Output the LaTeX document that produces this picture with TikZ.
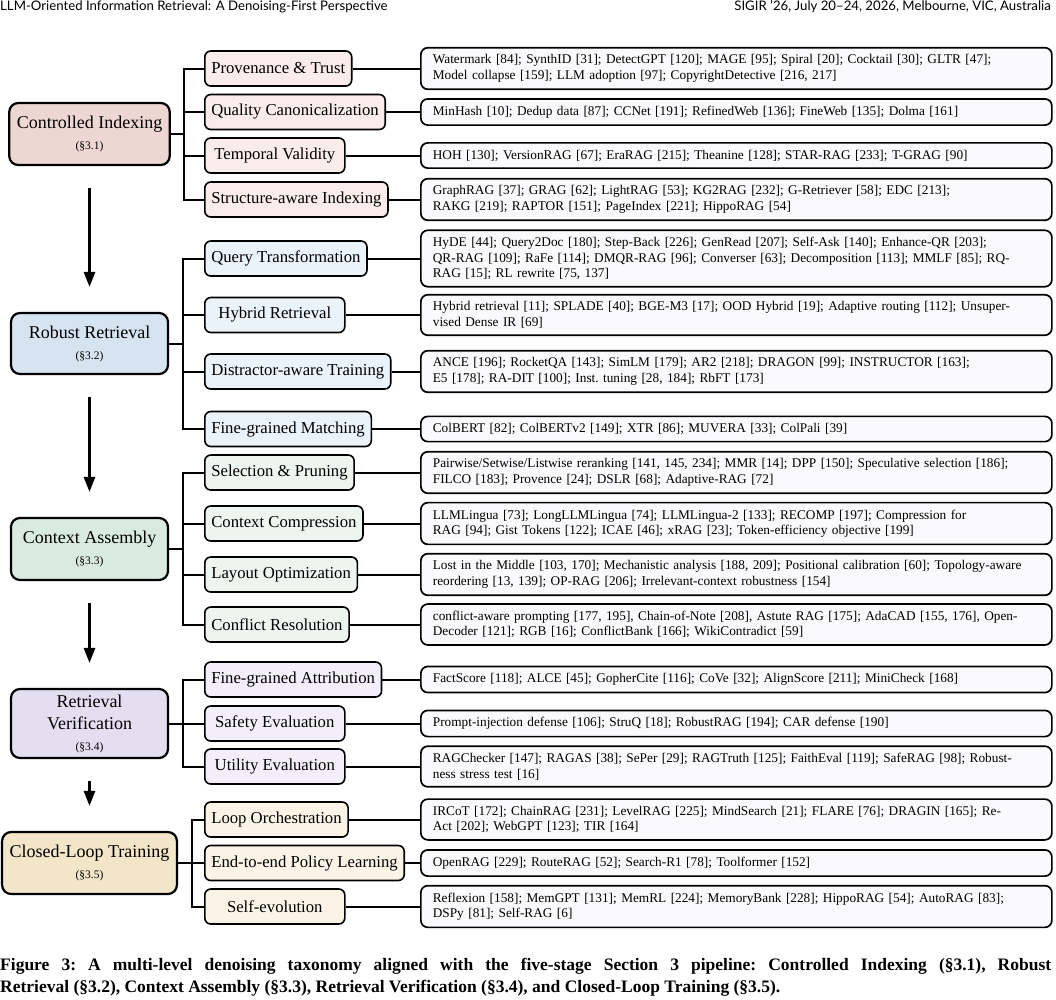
\documentclass[tikz,border=0pt]{standalone}
\usepackage{fontspec}
\setmainfont{Liberation Serif}
\newfontfamily\headfont{Lato}
\usetikzlibrary{arrows.meta}
\definecolor{ciP}{RGB}{238,215,210}
\definecolor{ciC}{RGB}{249,236,234}
\definecolor{rrP}{RGB}{214,228,241}
\definecolor{rrC}{RGB}{235,243,250}
\definecolor{caP}{RGB}{217,235,224}
\definecolor{caC}{RGB}{237,245,240}
\definecolor{rvP}{RGB}{228,222,241}
\definecolor{rvC}{RGB}{242,238,250}
\definecolor{clP}{RGB}{243,229,200}
\definecolor{clC}{RGB}{251,244,230}
\definecolor{leafc}{RGB}{250,250,252}
\newcommand\psec[1]{{\fontsize{11.5}{14}\selectfont #1}}
\tikzset{
  parent/.style={draw, line width=2.2pt, rounded corners=9pt, minimum width=157pt,
    inner xsep=7.5pt, align=center, font=\fontsize{18}{22}\selectfont},
  mid/.style={draw, line width=1.6pt, rounded corners=6pt, anchor=west,
    minimum width=140pt, minimum height=35pt, inner xsep=6.5pt, inner ysep=2pt,
    font=\fontsize{16.7}{20}\selectfont},
  leaf/.style={draw, line width=1.7pt, rounded corners=7pt, fill=leafc, anchor=west,
    text width=607pt, inner xsep=12pt, inner ysep=7pt, align=left,
    font=\fontsize{13.3}{15.5}\selectfont},
  conn/.style={line width=2pt},
  flow/.style={line width=2.6pt, -{Triangle[length=15pt,width=11pt]},
    shorten <=22pt, shorten >=25pt}
}
\begin{document}
\begin{tikzpicture}[x=1pt,y=-1pt]
\useasboundingbox (0,0) rectangle (1056,999);

% header
\node[anchor=base west, inner sep=0, font=\headfont\fontsize{13.2}{15}\selectfont] (hl) at (0,10.5)
  {LLM-Oriented Information Retrieval: A Denoising-First Perspective};
\node[anchor=base east, inner sep=0, font=\headfont\fontsize{13.2}{15}\selectfont] (hr) at (1051,10.5)
  {SIGIR ’26, July 20–24, 2026, Melbourne, VIC, Australia};

% parents
\node[parent, fill=ciP, minimum height=62pt] (ci) at (89.5,134) {Controlled Indexing\\[-1pt]\psec{(§3.1)}};
\node[parent, fill=rrP, minimum height=61pt] (rr) at (89.5,343.5) {Robust Retrieval\\[-1pt]\psec{(§3.2)}};
\node[parent, fill=caP, minimum height=62pt] (ca) at (89.5,549) {Context Assembly\\[-1pt]\psec{(§3.3)}};
\node[parent, fill=rvP, minimum height=69pt] (rv) at (89.5,723.5) {Retrieval\\Verification\\[-1pt]\psec{(§3.4)}};
\node[parent, fill=clP, minimum height=62pt] (cl) at (89.5,863) {Closed-Loop Training\\[-1pt]\psec{(§3.5)}};

% flow arrows
\draw[flow] (ci.south) -- (rr.north);
\draw[flow] (rr.south) -- (ca.north);
\draw[flow] (ca.south) -- (rv.north);
\draw[flow] (rv.south) -- (cl.north);

% middle level
\node[mid, fill=ciC] (m1) at (204,68.5) {Provenance \& Trust};
\node[mid, fill=ciC] (m2) at (204,112) {Quality Canonicalization};
\node[mid, fill=ciC] (m3) at (204,155.5) {Temporal Validity};
\node[mid, fill=ciC] (m4) at (204,199.5) {Structure-aware Indexing};
\node[mid, fill=rrC] (m5) at (204,258.5) {Query Transformation};
\node[mid, fill=rrC] (m6) at (204,315) {Hybrid Retrieval};
\node[mid, fill=rrC] (m7) at (204,371.5) {Distractor-aware Training};
\node[mid, fill=rrC] (m8) at (204,429) {Fine-grained Matching};
\node[mid, fill=caC] (m9) at (204,472.5) {Selection \& Pruning};
\node[mid, fill=caC] (m10) at (204,523.5) {Context Compression};
\node[mid, fill=caC] (m11) at (204,574.5) {Layout Optimization};
\node[mid, fill=caC] (m12) at (204,624.5) {Conflict Resolution};
\node[mid, fill=rvC] (m13) at (204,679.5) {Fine-grained Attribution};
\node[mid, fill=rvC] (m14) at (204,723.5) {Safety Evaluation};
\node[mid, fill=rvC] (m15) at (204,766.5) {Utility Evaluation};
\node[mid, fill=clC] (m16) at (204,819.5) {Loop Orchestration};
\node[mid, fill=clC] (m17) at (204,863) {End-to-end Policy Learning};
\node[mid, fill=clC] (m18) at (204,906.5) {Self-evolution};

% leaves
\node[leaf] (l1) at (420,68.5) {Watermark [84]; SynthID [31]; DetectGPT [120]; MAGE [95]; Spiral [20]; Cocktail [30]; GLTR [47];\\Model collapse [159]; LLM adoption [97]; CopyrightDetective [216, 217]};
\node[leaf] (l2) at (420,112) {MinHash [10]; Dedup data [87]; CCNet [191]; RefinedWeb [136]; FineWeb [135]; Dolma [161]};
\node[leaf] (l3) at (420,155.5) {HOH [130]; VersionRAG [67]; EraRAG [215]; Theanine [128]; STAR-RAG [233]; T-GRAG [90]};
\node[leaf] (l4) at (420,199.5) {GraphRAG [37]; GRAG [62]; LightRAG [53]; KG2RAG [232]; G-Retriever [58]; EDC [213];\\RAKG [219]; RAPTOR [151]; PageIndex [221]; HippoRAG [54]};
\node[leaf] (l5) at (420,258.5) {HyDE [44]; Query2Doc [180]; Step-Back [226]; GenRead [207]; Self-Ask [140]; Enhance-QR [203];\\QR-RAG [109]; RaFe [114]; DMQR-RAG [96]; Converser [63]; Decomposition [113]; MMLF [85]; RQ-\\RAG [15]; RL rewrite [75, 137]};
\node[leaf] (l6) at (420,315) {Hybrid retrieval [11]; SPLADE [40]; BGE-M3 [17]; OOD Hybrid [19]; Adaptive routing [112]; Unsuper-\\vised Dense IR [69]};
\node[leaf] (l7) at (420,371.5) {ANCE [196]; RocketQA [143]; SimLM [179]; AR2 [218]; DRAGON [99]; INSTRUCTOR [163];\\E5 [178]; RA-DIT [100]; Inst.\ tuning [28, 184]; RbFT [173]};
\node[leaf] (l8) at (420,429) {ColBERT [82]; ColBERTv2 [149]; XTR [86]; MUVERA [33]; ColPali [39]};
\node[leaf] (l9) at (420,472.5) {Pairwise/Setwise/Listwise reranking [141, 145, 234]; MMR [14]; DPP [150]; Speculative selection [186];\\FILCO [183]; Provence [24]; DSLR [68]; Adaptive-RAG [72]};
\node[leaf] (l10) at (420,523.5) {LLMLingua [73]; LongLLMLingua [74]; LLMLingua-2 [133]; RECOMP [197]; Compression for\\RAG [94]; Gist Tokens [122]; ICAE [46]; xRAG [23]; Token-efficiency objective [199]};
\node[leaf] (l11) at (420,574.5) {Lost in the Middle [103, 170]; Mechanistic analysis [188, 209]; Positional calibration [60]; Topology-aware\\reordering [13, 139]; OP-RAG [206]; Irrelevant-context robustness [154]};
\node[leaf] (l12) at (420,624.5) {conflict-aware prompting [177, 195], Chain-of-Note [208], Astute RAG [175]; AdaCAD [155, 176], Open-\\Decoder [121]; RGB [16]; ConflictBank [166]; WikiContradict [59]};
\node[leaf] (l13) at (420,679.5) {FactScore [118]; ALCE [45]; GopherCite [116]; CoVe [32]; AlignScore [211]; MiniCheck [168]};
\node[leaf] (l14) at (420,723.5) {Prompt-injection defense [106]; StruQ [18]; RobustRAG [194]; CAR defense [190]};
\node[leaf] (l15) at (420,766.5) {RAGChecker [147]; RAGAS [38]; SePer [29]; RAGTruth [125]; FaithEval [119]; SafeRAG [98]; Robust-\\ness stress test [16]};
\node[leaf] (l16) at (420,819.5) {IRCoT [172]; ChainRAG [231]; LevelRAG [225]; MindSearch [21]; FLARE [76]; DRAGIN [165]; Re-\\Act [202]; WebGPT [123]; TIR [164]};
\node[leaf] (l17) at (420,863) {OpenRAG [229]; RouteRAG [52]; Search-R1 [78]; Toolformer [152]};
\node[leaf] (l18) at (420,906.5) {Reflexion [158]; MemGPT [131]; MemRL [224]; MemoryBank [228]; HippoRAG [54]; AutoRAG [83];\\DSPy [81]; Self-RAG [6]};

% tree connectors
\foreach \i in {1,...,4} \draw[conn] (ci.east) -- ([xshift=13pt]ci.east) |- (m\i.west);
\foreach \i in {5,...,8} \draw[conn] (rr.east) -- ([xshift=14pt]rr.east) |- (m\i.west);
\foreach \i in {9,...,12} \draw[conn] (ca.east) -- ([xshift=14pt]ca.east) |- (m\i.west);
\foreach \i in {13,...,15} \draw[conn] (rv.east) -- ([xshift=14pt]rv.east) |- (m\i.west);
\foreach \i in {16,...,18} \draw[conn] (cl.east) -- ([xshift=14pt]cl.east) |- (m\i.west);
\foreach \i in {1,...,18} \draw[conn] (m\i.east) -- (l\i.west);

% caption
\node[anchor=north west, inner sep=0, text width=1051pt, align=justify,
  font=\bfseries\fontsize{17.5}{22}\selectfont\frenchspacing] (cap) at (0,958)
  {Figure 3: A multi-level denoising taxonomy aligned with the five-stage Section 3 pipeline: Controlled Indexing (§3.1), Robust\linebreak Retrieval (§3.2), Context Assembly (§3.3), Retrieval Verification (§3.4), and Closed-Loop Training (§3.5).};
\end{tikzpicture}
\end{document}
